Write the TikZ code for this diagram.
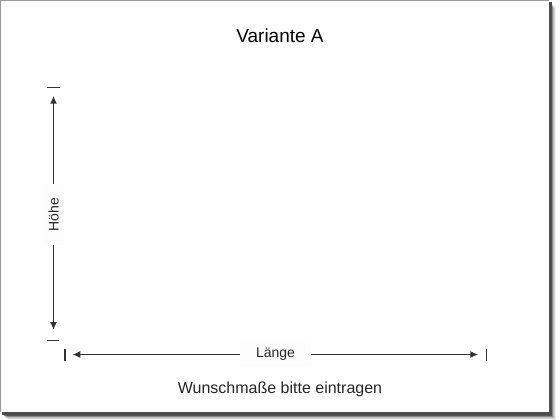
\documentclass[tikz,border=0pt]{standalone}
\usepackage{fontspec}
\setmainfont{Liberation Sans}
\usetikzlibrary{arrows.meta}
\tikzset{
  dimline/.style={line width=1.5pt, draw=black!80, -{Latex[length=8pt,width=7pt]}},
  tickline/.style={line width=1.5pt, draw=black!80},
  dimlabel/.style={fill=black!1, font=\fontsize{14}{16}\selectfont, text=black!85, inner ysep=5pt}
}
\begin{document}
\begin{tikzpicture}[x=1pt, y=-1pt, line join=round]
  \useasboundingbox (0,0) rectangle (560,420);
  %Schatten
  \foreach \d/\o in {8/0.06,7/0.1,6/0.15,5/0.25,4/0.4}
  \fill[black, opacity=\o] (\d,\d) rectangle (548+\d,411.5+\d);
  \fill[black!70] (2,2) rectangle (551.5,415);
  %Blatt
  \fill[white] (0,0) rectangle (548.5,412);
  \draw[black!40, line width=1pt] (548.5,0.5) -- (0.5,0.5) -- (0.5,412);
  %Texte
  \node[font=\fontsize{19}{22}\selectfont] (title) at (280,36) {Variante A};
  \node[font=\fontsize{16}{19}\selectfont, text=black!85] (hint) at (280,389) {Wunschmaße bitte eintragen};
  %Höhe
  \coordinate (htop) at (53.5,95.7);
  \coordinate (hbot) at (53.5,330);
  \node[dimlabel, rotate=90, inner xsep=14pt] (hoehe) at (53.5,214.5) {Höhe};
  \draw[dimline] (hoehe) -- (htop);
  \draw[dimline] (hoehe) -- (hbot);
  \draw[tickline] (47.3,87.3) -- (60,87.3);
  \draw[tickline] (46.7,340.3) -- (59.3,340.3);
  %Länge
  \coordinate (lleft) at (72.3,354.5);
  \coordinate (lright) at (478.3,354.5);
  \node[dimlabel, inner xsep=16pt] (laenge) at (275.5,354.5) {Länge};
  \draw[dimline] (laenge) -- (lleft);
  \draw[dimline] (laenge) -- (lright);
  \draw[tickline] (65,348.5) -- (65,360.5);
  \draw[tickline] (486.7,348.5) -- (486.7,360.5);
\end{tikzpicture}
\end{document}
